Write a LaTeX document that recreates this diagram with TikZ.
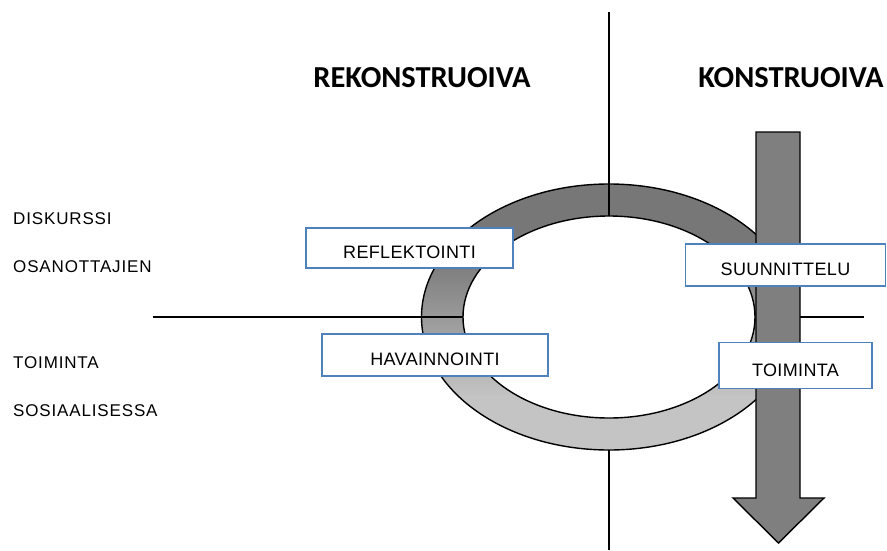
\documentclass[tikz,border=0pt]{standalone}
\usepackage{fontspec}
\setmainfont{Liberation Sans}
\newfontfamily\headfont{Carlito}
\newfontfamily\boxfont[LetterSpace=2]{Liberation Sans}
\newfontfamily\labelfont[LetterSpace=5]{Liberation Sans}
\definecolor{ringdark}{HTML}{777777}
\definecolor{ringlight}{HTML}{C4C4C4}
\definecolor{arrowgray}{HTML}{7F7F7F}
\definecolor{boxblue}{RGB}{79,129,189}
\pgfdeclareverticalshading{ringshade}{100bp}{color(0bp)=(ringlight); color(35bp)=(ringlight); color(62bp)=(ringdark); color(100bp)=(ringdark)}
\begin{document}
\begin{tikzpicture}[x=1pt,y=-1pt,
  axisline/.style={line width=1.6pt, draw=black},
  ringline/.style={line width=1.4pt, draw=black},
  arrowbody/.style={fill=arrowgray, draw=black, line width=1.4pt, line join=miter},
  phasebox/.style={draw=boxblue, fill=white, line width=1.2pt, inner sep=0pt,
    text height=21pt, text depth=0pt, font=\boxfont\fontsize{18}{20}\selectfont},
  heading/.style={inner sep=0pt, font=\headfont\bfseries\fontsize{30.5}{34}\selectfont},
  sidelabel/.style={inner sep=0pt, anchor=base west, font=\labelfont\fontsize{17}{19}\selectfont}]
\useasboundingbox (0,0) rectangle (887,550);

% centre of the cycle and the end points of the two axes
\coordinate (c) at (609,317);
\coordinate (vtop) at (609,12);
\coordinate (vin) at (609,216);
\coordinate (vout) at (609,450);
\coordinate (vbot) at (609,550);
\coordinate (hleft) at (153,317);
\coordinate (hin) at (463,317);
\coordinate (hr1) at (800,317);
\coordinate (hr2) at (864,317);

% shaded ring
\path[shading=ringshade, even odd rule]
  (c) ellipse [x radius=187.5pt, y radius=133pt]
  (c) ellipse [x radius=146pt, y radius=101pt];
\draw[ringline] (c) ellipse [x radius=187.5pt, y radius=133pt];
\draw[ringline] (c) ellipse [x radius=146pt, y radius=101pt];

% axes
\draw[axisline] (vtop) -- (vin);
\draw[axisline] (vout) -- (vbot);
\draw[axisline] (hleft) -- (hin);
\draw[axisline] (hr1) -- (hr2);

% downward arrow
\draw[arrowbody] (756,132) -- (800,132) -- (800,498) -- (824,498)
  -- (778.5,543) -- (733,498) -- (756,498) -- cycle;

% phase boxes
\node[phasebox, minimum width=207pt, minimum height=40pt] (refl) at (409.5,248) {REFLEKTOINTI};
\node[phasebox, minimum width=226pt, minimum height=42pt] (hav) at (435,355) {HAVAINNOINTI};
\node[phasebox, minimum width=200pt, minimum height=42pt] (suun) at (785.5,265) {SUUNNITTELU};
\node[phasebox, minimum width=153pt, minimum height=46pt] (toim) at (795.5,365.5) {TOIMINTA};

% headings
\node[heading] (rek) at (422,78) {REKONSTRUOIVA};
\node[heading] (kon) at (791,78) {KONSTRUOIVA};

% side labels
\node[sidelabel] (l1) at (13,224) {DISKURSSI};
\node[sidelabel] (l2) at (13,272) {OSANOTTAJIEN};
\node[sidelabel] (l3) at (13,368) {TOIMINTA};
\node[sidelabel] (l4) at (13,416) {SOSIAALISESSA};
\end{tikzpicture}
\end{document}
